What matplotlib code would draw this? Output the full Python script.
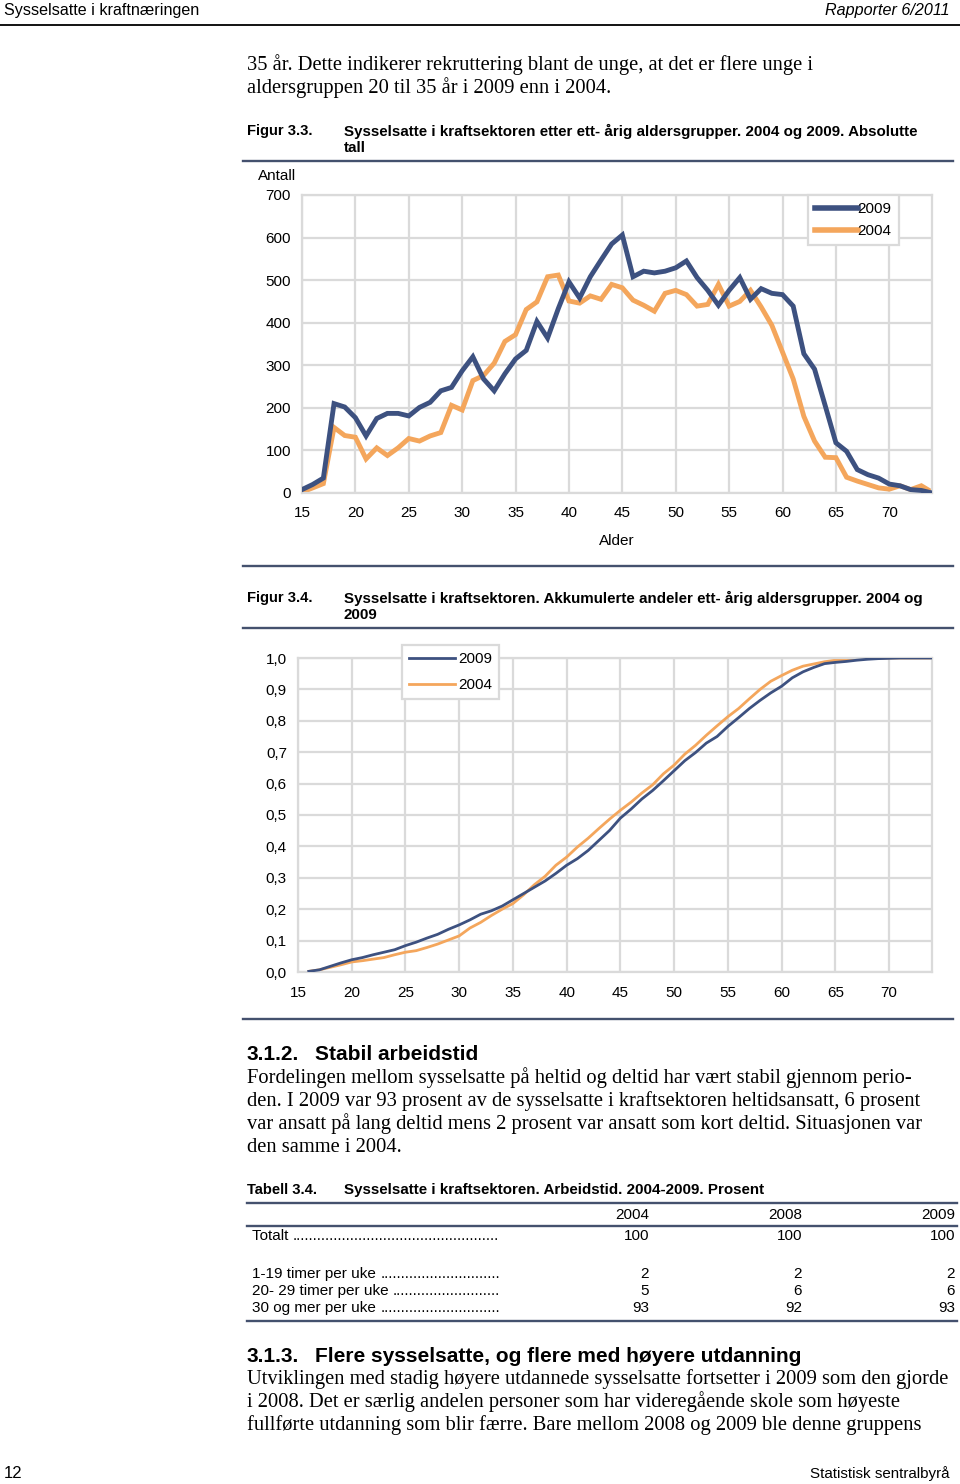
import matplotlib
matplotlib.use("Agg")
import matplotlib.pyplot as plt
from matplotlib.lines import Line2D

# data
ages = list(range(15, 75))
emp_2009 = [8, 20, 35, 210, 202, 177, 134, 175, 187, 187,
            181, 201, 213, 240, 248, 287, 320, 268, 240, 280,
            315, 335, 403, 364, 433, 496, 458, 508, 547, 585,
            606, 508, 521, 517, 521, 529, 545, 506, 476, 441,
            476, 506, 455, 480, 469, 466, 439, 327, 291, 205,
            118, 98, 55, 43, 35, 21, 17, 8, 6, 0]
emp_2004 = [2, 12, 22, 154, 135, 131, 80, 106, 88, 106,
            128, 122, 134, 142, 206, 195, 264, 276, 305, 356,
            372, 431, 449, 508, 512, 451, 446, 463, 455, 490,
            482, 453, 441, 427, 469, 476, 466, 439, 443, 490,
            439, 450, 476, 437, 394, 331, 268, 180, 122, 84,
            83, 37, 28, 20, 12, 9, 17, 8, 17, 2]

cum_ages = list(range(16, 75))
cum_2009 = [0.002, 0.007, 0.018, 0.029, 0.039, 0.046, 0.055, 0.063, 0.071, 0.084,
            0.095, 0.108, 0.120, 0.136, 0.150, 0.166, 0.184, 0.195, 0.210, 0.230,
            0.250, 0.270, 0.290, 0.314, 0.340, 0.361, 0.387, 0.419, 0.451, 0.490,
            0.519, 0.551, 0.578, 0.609, 0.641, 0.673, 0.699, 0.729, 0.750, 0.782,
            0.810, 0.839, 0.865, 0.889, 0.910, 0.937, 0.956, 0.970, 0.982, 0.986,
            0.989, 0.993, 0.996, 0.998, 0.999, 1.0, 1.0, 1.0, 1.0]
cum_2004 = [0.002, 0.007, 0.015, 0.023, 0.032, 0.036, 0.041, 0.046, 0.055, 0.063,
            0.068, 0.078, 0.089, 0.102, 0.115, 0.140, 0.158, 0.180, 0.200, 0.218,
            0.246, 0.278, 0.305, 0.340, 0.366, 0.398, 0.426, 0.457, 0.487, 0.515,
            0.541, 0.570, 0.596, 0.631, 0.659, 0.694, 0.722, 0.754, 0.784, 0.813,
            0.839, 0.870, 0.900, 0.926, 0.944, 0.961, 0.974, 0.981, 0.988, 0.993,
            0.995, 0.997, 0.999, 0.999, 1.0, 1.0, 1.0, 1.0, 1.0]

x_ticks = [15, 20, 25, 30, 35, 40, 45, 50, 55, 60, 65, 70]
y_ticks_abs = [0, 100, 200, 300, 400, 500, 600, 700]
y_ticks_cum = [0.0, 0.1, 0.2, 0.3, 0.4, 0.5, 0.6, 0.7, 0.8, 0.9, 1.0]

table_cols = ["2004", "2008", "2009"]
table_rows = ["Totalt", "", "1-19 timer per uke", "20- 29 timer per uke", "30 og mer per uke"]
table_vals = [["100", "100", "100"], ["", "", ""], ["2", "2", "2"], ["5", "6", "6"], ["93", "92", "93"]]

BLUE = "#3d5180"
ORANGE = "#f4a65c"
GRID = "#dadada"
RULE = "#44516e"

W, H = 960, 1484
fig = plt.figure(figsize=(W / 100, H / 100), dpi=100)
renderer = fig.canvas.get_renderer()

SANS = "Liberation Sans"
SERIF = "Liberation Serif"
CAP = 10.9     # bold captions
BODY = 14.8    # serif body text

def txt(x, y, s, **kw):
    kw.setdefault("va", "center")
    kw.setdefault("color", "black")
    kw.setdefault("family", SANS)
    return fig.text(x / W, 1 - y / H, s, **kw)

def rule(y, x0=243, x1=953, lw=1.7, color=RULE):
    fig.add_artist(Line2D([x0 / W, x1 / W], [1 - y / H, 1 - y / H], lw=lw, color=color))

def ax_px(left, top, right, bottom):
    return fig.add_axes([left / W, 1 - bottom / H, (right - left) / W, (bottom - top) / H])

# header
txt(4, 11, "Sysselsatte i kraftnæringen", fontsize=11.6)
txt(950, 11, "Rapporter 6/2011", fontsize=11.6, style="italic", ha="right")
rule(25, 0, 960, lw=1.3, color="black")

body = [(65, "35 år. Dette indikerer rekruttering blant de unge, at det er flere unge i"),
        (88, "aldersgruppen 20 til 35 år i 2009 enn i 2004.")]
for y, s in body:
    txt(247, y, s, family=SERIF, fontsize=BODY)

# figure 3.3
txt(247, 131, "Figur 3.3.", fontsize=10.6, weight="bold")
txt(344, 131, "Sysselsatte i kraftsektoren etter ett- årig aldersgrupper. 2004 og 2009. Absolutte",
    fontsize=CAP, weight="bold")
txt(344, 148, "tall", fontsize=CAP, weight="bold")
rule(161)

ax1 = ax_px(302, 195, 932, 493)
ax1.plot(ages, emp_2009, color=BLUE, lw=3.5, label="2009", solid_joinstyle="miter", zorder=3)
ax1.plot(ages, emp_2004, color=ORANGE, lw=3.5, label="2004", solid_joinstyle="miter", zorder=2)
ax1.set_xlim(15, 74)
ax1.set_ylim(0, 700)
ax1.set_xticks(x_ticks)
ax1.set_yticks(y_ticks_abs)
ax1.grid(True, color=GRID, lw=1.6)
ax1.set_axisbelow(True)
for sp in ax1.spines.values():
    sp.set_color(GRID)
    sp.set_linewidth(1.6)
ax1.tick_params(length=0, labelsize=11, pad=8)
ax1.tick_params(axis="x", pad=9.5)
for lab in ax1.get_xticklabels() + ax1.get_yticklabels():
    lab.set_family(SANS)
leg1 = ax1.legend(loc="upper left", bbox_to_anchor=(808 / W, 1 - 195 / H), bbox_transform=fig.transFigure,
                  borderaxespad=0, frameon=True, fancybox=False, edgecolor=GRID, framealpha=1,
                  handlelength=2.8, handletextpad=0.0, borderpad=0.45, labelspacing=0.55,
                  prop={"family": SANS, "size": 11})
leg1.get_frame().set_linewidth(1.6)
for ln in leg1.get_lines():
    ln.set_linewidth(4)
txt(258, 176, "Antall", fontsize=11)
txt(617, 541, "Alder", fontsize=11, ha="center")

rule(566)

# figure 3.4
txt(247, 598, "Figur 3.4.", fontsize=10.6, weight="bold")
txt(344, 598, "Sysselsatte i kraftsektoren. Akkumulerte andeler ett- årig aldersgrupper. 2004 og",
    fontsize=CAP, weight="bold")
txt(344, 615, "2009", fontsize=CAP, weight="bold")
rule(628)

ax2 = ax_px(298, 658, 932, 972)
ax2.plot(cum_ages, cum_2009, color=BLUE, lw=2.0, label="2009", zorder=3)
ax2.plot(cum_ages, cum_2004, color=ORANGE, lw=2.0, label="2004", zorder=2)
ax2.set_xlim(15, 74)
ax2.set_ylim(0, 1)
ax2.set_xticks(x_ticks)
ax2.set_yticks(y_ticks_cum)
ax2.set_yticklabels([f"{v:.1f}".replace(".", ",") for v in y_ticks_cum])
ax2.grid(True, color=GRID, lw=1.6)
ax2.set_axisbelow(True)
for sp in ax2.spines.values():
    sp.set_color(GRID)
    sp.set_linewidth(1.6)
ax2.tick_params(length=0, labelsize=11, pad=8)
ax2.tick_params(axis="x", pad=10)
for lab in ax2.get_xticklabels() + ax2.get_yticklabels():
    lab.set_family(SANS)
leg2 = ax2.legend(loc="upper left", bbox_to_anchor=(402 / W, 1 - 645 / H), bbox_transform=fig.transFigure,
                  borderaxespad=0, frameon=True, fancybox=False, edgecolor=GRID, framealpha=1,
                  handlelength=3.0, handletextpad=0.25, borderpad=0.45, labelspacing=0.8,
                  prop={"family": SANS, "size": 11})
leg2.get_frame().set_linewidth(1.6)

rule(1019)

# section 3.1.2
txt(247, 1054, "3.1.2.", fontsize=15, weight="bold")
txt(315, 1054, "Stabil arbeidstid", fontsize=15, weight="bold")
para1 = [(1078, "Fordelingen mellom sysselsatte på heltid og deltid har vært stabil gjennom perio-"),
         (1101, "den. I 2009 var 93 prosent av de sysselsatte i kraftsektoren heltidsansatt, 6 prosent"),
         (1124, "var ansatt på lang deltid mens 2 prosent var ansatt som kort deltid. Situasjonen var"),
         (1147, "den samme i 2004.")]
for y, s in para1:
    txt(247, y, s, family=SERIF, fontsize=BODY)

# table 3.4
TAB = 11.0
txt(247, 1190, "Tabell 3.4.", fontsize=10.6, weight="bold")
txt(344, 1190, "Sysselsatte i kraftsektoren. Arbeidstid. 2004-2009. Prosent", fontsize=CAP, weight="bold")
rule(1203, 247, 957)
col_x = [649, 802, 955]
for cx, c in zip(col_x, table_cols):
    txt(cx, 1215, c, fontsize=TAB, ha="right")
rule(1226, 247, 957)
row_y = [1236, 1255, 1274, 1291, 1308]
probe = txt(300, 700, ".", fontsize=TAB)
dot_w = probe.get_window_extent(renderer).width
probe.remove()
for ry, r, vals in zip(row_y, table_rows, table_vals):
    if r:
        t = txt(252, ry, r + " ", fontsize=TAB)
        end = t.get_window_extent(renderer).x1
        n = int(round((499 - end) / dot_w))
        txt(end, ry, "." * n, fontsize=TAB)
    for cx, v in zip(col_x, vals):
        txt(cx, ry, v, fontsize=TAB, ha="right")
rule(1321, 247, 957)

# section 3.1.3
txt(247, 1356, "3.1.3.", fontsize=15, weight="bold")
txt(315, 1356, "Flere sysselsatte, og flere med høyere utdanning", fontsize=15, weight="bold")
para2 = [(1379, "Utviklingen med stadig høyere utdannede sysselsatte fortsetter i 2009 som den gjorde"),
         (1402, "i 2008. Det er særlig andelen personer som har videregående skole som høyeste"),
         (1425, "fullførte utdanning som blir færre. Bare mellom 2008 og 2009 ble denne gruppens")]
for y, s in para2:
    txt(247, y, s, family=SERIF, fontsize=BODY)

# footer
txt(4, 1474, "12", fontsize=12)
txt(950, 1474, "Statistisk sentralbyrå", fontsize=10.9, ha="right")

fig.savefig("out.png", dpi=100)
